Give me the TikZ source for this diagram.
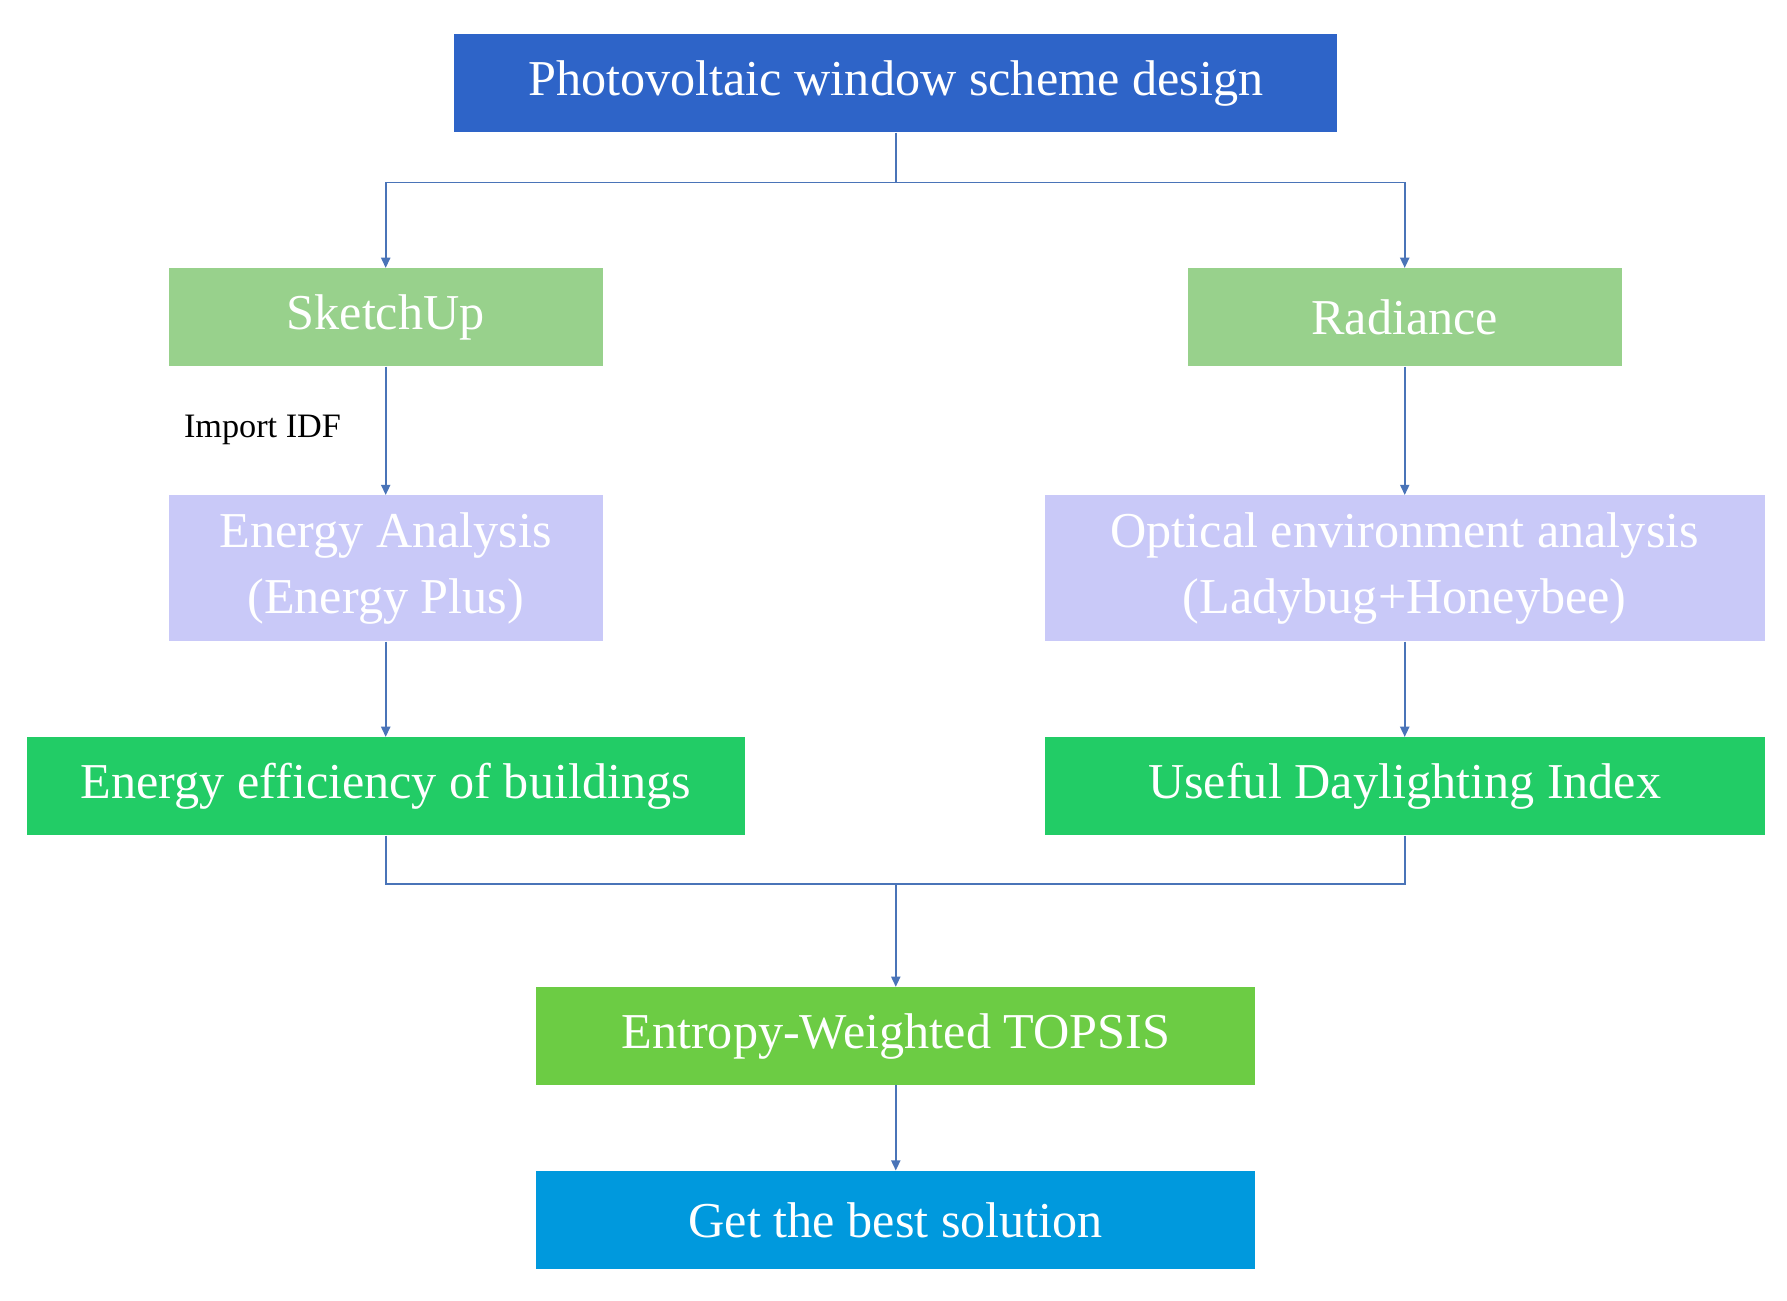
\documentclass[tikz,border=0pt]{standalone}
\usepackage{fontspec}
\setmainfont{Liberation Serif}
\usetikzlibrary{arrows.meta}
\definecolor{cTop}{HTML}{2E64C8}
\definecolor{cLg}{HTML}{98D18C}
\definecolor{cLav}{HTML}{C9C9F8}
\definecolor{cGr}{HTML}{22CC66}
\definecolor{cGr2}{HTML}{6CCC44}
\definecolor{cBl}{HTML}{0099DD}
\definecolor{cLn}{HTML}{4A74B8}
\begin{document}
\begin{tikzpicture}[x=1pt,y=-1pt,
 box/.style={draw=none,text=white,inner sep=0pt,align=center,font=\fontsize{44}{58}\selectfont},
 ln/.style={draw=cLn,line width=1.6pt},
 ar/.style={ln,-{Triangle[length=9pt,width=8pt]}}]
\useasboundingbox (0,0) rectangle (1566,1140);
\node[box,fill=cTop,minimum width=774pt,minimum height=86pt] (top) at (785,73) {Photovoltaic window scheme design};
\node[box,fill=cLg,minimum width=380pt,minimum height=86pt] (sk) at (338,278) {SketchUp};
\node[box,fill=cLg,minimum width=380pt,minimum height=86pt] (ra) at (1231,278) {Radiance};
\node[box,fill=cLav,minimum width=380pt,minimum height=128pt] (ea) at (338,498) {Energy Analysis\\(Energy Plus)};
\node[box,fill=cLav,minimum width=631pt,minimum height=128pt] (oe) at (1231,498) {Optical environment analysis\\(Ladybug+Honeybee)};
\node[box,fill=cGr,minimum width=629pt,minimum height=86pt] (ee) at (338,689) {Energy efficiency of buildings};
\node[box,fill=cGr,minimum width=631pt,minimum height=86pt] (ud) at (1231,689) {Useful Daylighting Index};
\node[box,fill=cGr2,minimum width=630pt,minimum height=86pt] (en) at (785,908) {Entropy-Weighted TOPSIS};
\node[box,fill=cBl,minimum width=630pt,minimum height=86pt] (gb) at (785,1069) {Get the best solution};
\node[font=\fontsize{30}{36}\selectfont,text=black] (imp) at (230,377) {Import IDF};
\coordinate (s1) at (785,160);
\draw[ln] (top.south) -- (s1);
\draw[ar] (s1) -| (sk.north);
\draw[ar] (s1) -| (ra.north);
\draw[ar] (sk) -- (ea);
\draw[ar] (ra) -- (oe);
\draw[ar] (ea) -- (ee);
\draw[ar] (oe) -- (ud);
\coordinate (s2) at (785,775);
\draw[ln] (ee.south) |- (s2);
\draw[ln] (ud.south) |- (s2);
\draw[ar] (s2) -- (en.north);
\draw[ar] (en) -- (gb);
\end{tikzpicture}
\end{document}
